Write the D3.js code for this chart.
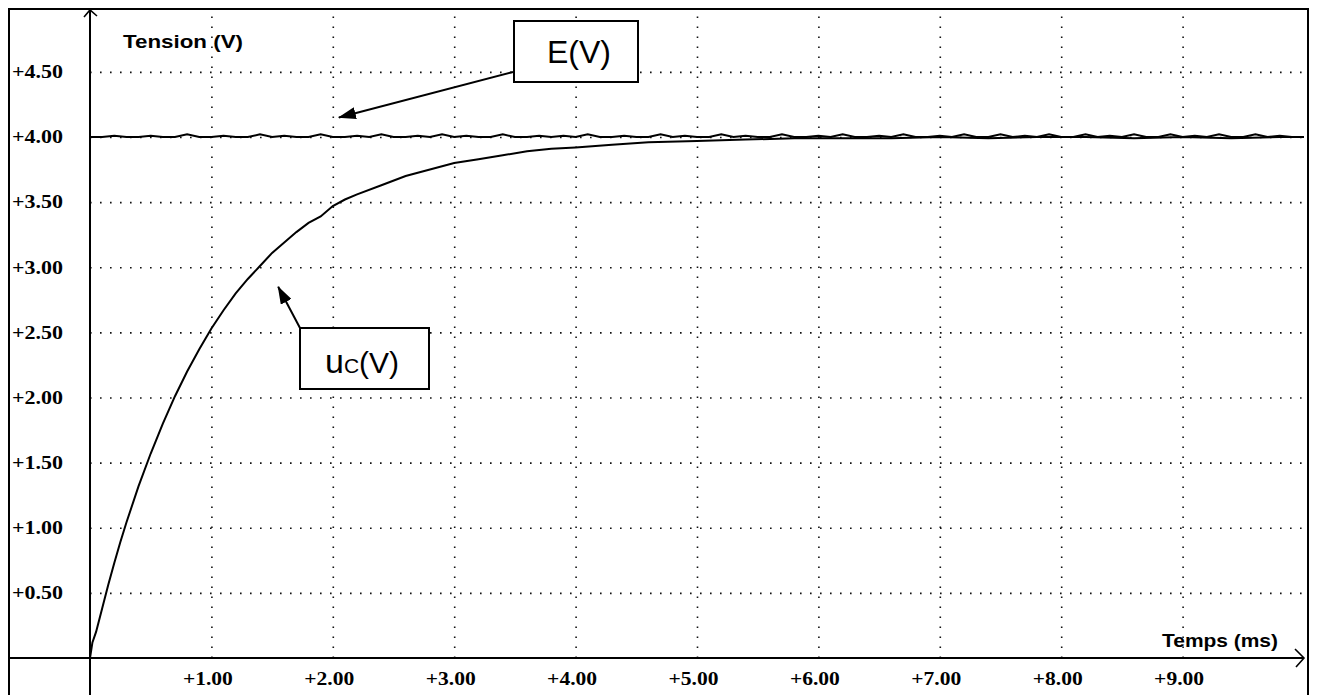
<!DOCTYPE html>
<html>
<head>
<meta charset="utf-8">
<script src="https://cdn.jsdelivr.net/npm/d3@7"></script>
<style>
  body { margin: 0; background: #fff; }
  .tick-label { font-family: "Liberation Serif", "Times New Roman", serif; font-weight: bold; font-size: 18px; fill: #000; }
  .axis-title { font-family: "Liberation Sans", Arial, sans-serif; font-weight: bold; font-size: 19px; fill: #000; }
  .box-label { font-family: "Liberation Sans", Arial, sans-serif; fill: #000; }
</style>
</head>
<body>
<svg width="1317" height="695"></svg>
<script>
// Tick values
const xTicks = [1, 2, 3, 4, 5, 6, 7, 8, 9];
const yTicks = [0.5, 1, 1.5, 2, 2.5, 3, 3.5, 4, 4.5];

// E(V) : generator voltage, sampled every 0.1 ms
const eTime = [0.0, 0.1, 0.2, 0.3, 0.4, 0.5, 0.6, 0.7, 0.8, 0.9,
  1.0, 1.1, 1.2, 1.3, 1.4, 1.5, 1.6, 1.7, 1.8, 1.9,
  2.0, 2.1, 2.2, 2.3, 2.4, 2.5, 2.6, 2.7, 2.8, 2.9,
  3.0, 3.1, 3.2, 3.3, 3.4, 3.5, 3.6, 3.7, 3.8, 3.9,
  4.0, 4.1, 4.2, 4.3, 4.4, 4.5, 4.6, 4.7, 4.8, 4.9,
  5.0, 5.1, 5.2, 5.3, 5.4, 5.5, 5.6, 5.7, 5.8, 5.9,
  6.0, 6.1, 6.2, 6.3, 6.4, 6.5, 6.6, 6.7, 6.8, 6.9,
  7.0, 7.1, 7.2, 7.3, 7.4, 7.5, 7.6, 7.7, 7.8, 7.9,
  8.0, 8.1, 8.2, 8.3, 8.4, 8.5, 8.6, 8.7, 8.8, 8.9,
  9.0, 9.1, 9.2, 9.3, 9.4, 9.5, 9.6, 9.7, 9.8, 9.9, 10.0];
const eVolt = [4.00, 4.00, 4.01, 4.00, 4.00, 4.01, 4.00, 4.00, 4.02, 4.00,
  4.00, 4.01, 4.00, 4.00, 4.02, 4.00, 4.01, 4.00, 4.00, 4.02,
  4.00, 4.00, 4.01, 4.00, 4.02, 4.00, 4.00, 4.01, 4.00, 4.02,
  4.00, 4.01, 4.00, 4.00, 4.02, 4.00, 4.00, 4.01, 4.00, 4.01,
  4.00, 4.02, 4.00, 4.00, 4.01, 4.00, 4.00, 4.02, 4.00, 4.01,
  4.00, 4.00, 4.02, 4.00, 4.01, 4.00, 4.00, 4.02, 4.00, 4.00,
  4.01, 4.00, 4.02, 4.00, 4.00, 4.01, 4.00, 4.02, 4.00, 4.00,
  4.01, 4.00, 4.02, 4.00, 4.00, 4.02, 4.00, 4.01, 4.00, 4.02,
  4.00, 4.00, 4.02, 4.00, 4.01, 4.00, 4.02, 4.00, 4.00, 4.02,
  4.00, 4.01, 4.00, 4.02, 4.00, 4.00, 4.02, 4.00, 4.01, 4.00, 4.00];

// uC(V) : capacitor voltage
const uTime = [0, 0.02, 0.05, 0.1, 0.15, 0.2, 0.25, 0.3, 0.4, 0.5, 0.6, 0.7, 0.8, 0.9,
  1.0, 1.1, 1.2, 1.3, 1.4, 1.5, 1.6, 1.7, 1.8, 1.9, 2.0, 2.1, 2.2, 2.4, 2.6, 2.8,
  3.0, 3.2, 3.4, 3.6, 3.8, 4.0, 4.3, 4.6, 5.0, 5.4, 5.8, 6.2, 6.6, 7.0, 7.4, 7.8,
  8.2, 8.6, 9.0, 9.4, 9.8, 10.0];
const uVolt = [0.00, 0.12, 0.20, 0.38, 0.56, 0.73, 0.89, 1.04, 1.32, 1.57, 1.80, 2.01, 2.20, 2.37,
  2.53, 2.67, 2.80, 2.91, 3.01, 3.11, 3.19, 3.27, 3.34, 3.39, 3.47, 3.52, 3.56, 3.63, 3.70, 3.75,
  3.80, 3.83, 3.86, 3.89, 3.91, 3.92, 3.94, 3.96, 3.97, 3.98, 3.99, 3.99, 3.99, 4.00, 3.99, 4.00,
  4.00, 3.99, 4.00, 3.99, 4.00, 4.00];

const svg = d3.select('svg');
const width = +svg.attr('width');
const height = +svg.attr('height');

// frame and axis positions
const frame = { left: 9, top: 9, right: 1308 };
const origin = { x: 90, y: 658 };

const xScale = d3.scaleLinear().domain([0, 10]).range([origin.x, origin.x + 1214]);
const yScale = d3.scaleLinear().domain([0, 4]).range([origin.y, origin.y - 521]);

// Frame
svg.append('path')
    .attr('d', `M${frame.left},${height} V${frame.top} H${frame.right} V${height}`)
    .attr('fill', 'none')
    .attr('stroke', '#000')
    .attr('stroke-width', 2);

// Vertical dotted grid
const xGrid = svg.append('g')
    .attr('transform', `translate(0,${origin.y})`)
    .call(d3.axisBottom(xScale).tickValues(xTicks).tickSize(-(origin.y - frame.top)).tickFormat(''));
xGrid.select('.domain').remove();
xGrid.selectAll('.tick line')
    .attr('stroke', '#111')
    .attr('stroke-width', 1.6)
    .attr('stroke-dasharray', '1.6 8.4');

// Horizontal dotted grid
const yGrid = svg.append('g')
    .attr('transform', `translate(${origin.x},0)`)
    .call(d3.axisLeft(yScale).tickValues(yTicks).tickSize(-(frame.right - origin.x)).tickFormat(''));
yGrid.select('.domain').remove();
yGrid.selectAll('.tick line')
    .attr('stroke', '#111')
    .attr('stroke-width', 1.6)
    .attr('stroke-dasharray', '1.6 8.4');

// Y tick labels, left aligned against the frame
const yLabels = svg.append('g')
    .attr('transform', `translate(12,0)`)
    .call(d3.axisLeft(yScale).tickValues(yTicks).tickSize(0).tickPadding(0)
        .tickFormat(d => '+' + d3.format('.2f')(d)));
yLabels.select('.domain').remove();
yLabels.selectAll('.tick text')
    .attr('class', 'tick-label')
    .attr('text-anchor', 'start')
    .attr('x', 0)
    .attr('textLength', 51)
    .attr('lengthAdjust', 'spacingAndGlyphs');

// X tick labels
const xLabels = svg.append('g')
    .attr('transform', `translate(-4,${origin.y})`)
    .call(d3.axisBottom(xScale).tickValues(xTicks).tickSize(0).tickPadding(14)
        .tickFormat(d => '+' + d3.format('.2f')(d)));
xLabels.select('.domain').remove();
xLabels.selectAll('.tick text')
    .attr('class', 'tick-label')
    .attr('textLength', 50)
    .attr('lengthAdjust', 'spacingAndGlyphs');

// Axes lines with open arrow heads
svg.append('line')
    .attr('x1', frame.left).attr('x2', xScale(10) - 1)
    .attr('y1', origin.y).attr('y2', origin.y)
    .attr('stroke', '#000').attr('stroke-width', 2);
svg.append('path')
    .attr('d', `M${xScale(10) - 9},${origin.y - 9} L${xScale(10)},${origin.y} L${xScale(10) - 8},${origin.y + 9}`)
    .attr('fill', 'none').attr('stroke', '#000').attr('stroke-width', 1.6);

svg.append('line')
    .attr('x1', origin.x).attr('x2', origin.x)
    .attr('y1', height).attr('y2', frame.top + 1)
    .attr('stroke', '#000').attr('stroke-width', 2);
svg.append('path')
    .attr('d', `M${origin.x - 6},${frame.top + 8} L${origin.x},${frame.top + 1} L${origin.x + 7},${frame.top + 7}`)
    .attr('fill', 'none').attr('stroke', '#000').attr('stroke-width', 1.6);

// Axis titles
svg.append('text')
    .attr('class', 'axis-title')
    .attr('x', 123).attr('y', 48)
    .attr('textLength', 120).attr('lengthAdjust', 'spacingAndGlyphs')
    .text('Tension (V)');
svg.append('text')
    .attr('class', 'axis-title')
    .attr('x', 1162).attr('y', 647)
    .attr('textLength', 116).attr('lengthAdjust', 'spacingAndGlyphs')
    .text('Temps (ms)');

// Curves
const line = d3.line()
    .x(d => xScale(d[0]))
    .y(d => yScale(d[1]));

svg.append('path')
    .datum(eTime.map((t, i) => [t, eVolt[i]]))
    .attr('d', line)
    .attr('fill', 'none')
    .attr('stroke', '#000')
    .attr('stroke-width', 2);

svg.append('path')
    .datum(uTime.map((t, i) => [t, uVolt[i]]))
    .attr('d', line)
    .attr('fill', 'none')
    .attr('stroke', '#000')
    .attr('stroke-width', 2);

// Annotation boxes and arrows
svg.append('defs').append('marker')
    .attr('id', 'head')
    .attr('viewBox', '0 0 18 12')
    .attr('refX', 17).attr('refY', 6)
    .attr('markerWidth', 18).attr('markerHeight', 12)
    .attr('markerUnits', 'userSpaceOnUse')
    .attr('orient', 'auto')
    .append('path')
    .attr('d', 'M0,0 L18,6 L0,12 Z')
    .attr('fill', '#000');

// E(V) label
svg.append('line')
    .attr('x1', 513).attr('y1', 72)
    .attr('x2', xScale(2.05)).attr('y2', yScale(4.15))
    .attr('stroke', '#000').attr('stroke-width', 2)
    .attr('marker-end', 'url(#head)');
svg.append('rect')
    .attr('x', 514).attr('y', 21).attr('width', 124).attr('height', 61)
    .attr('fill', '#fff').attr('stroke', '#000').attr('stroke-width', 2);
svg.append('text')
    .attr('class', 'box-label')
    .attr('x', 547).attr('y', 63)
    .attr('font-size', 32)
    .text('E(V)');

// uC(V) label
svg.append('line')
    .attr('x1', 300).attr('y1', 328)
    .attr('x2', xScale(1.55)).attr('y2', yScale(2.85))
    .attr('stroke', '#000').attr('stroke-width', 2)
    .attr('marker-end', 'url(#head)');
svg.append('rect')
    .attr('x', 300).attr('y', 328).attr('width', 129).attr('height', 61)
    .attr('fill', '#fff').attr('stroke', '#000').attr('stroke-width', 2);
const uLabel = svg.append('text')
    .attr('class', 'box-label')
    .attr('x', 325).attr('y', 373);
uLabel.append('tspan').attr('font-size', 34).text('u');
uLabel.append('tspan').attr('font-size', 21).text('C');
uLabel.append('tspan').attr('font-size', 30).text('(V)');
</script>
</body>
</html>
